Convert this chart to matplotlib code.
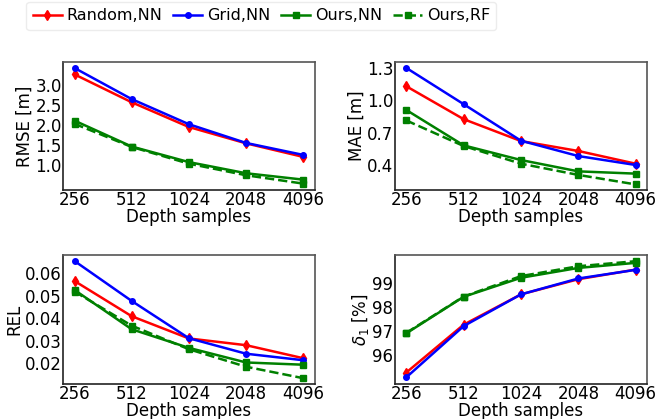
import numpy as np
import matplotlib as mpl
mpl.use('Agg')
import matplotlib.pyplot as plt

# Data
samples = ['256', '512', '1024', '2048', '4096']

rmse_random = [3.27, 2.57, 1.95, 1.54, 1.20]
rmse_grid = [3.43, 2.65, 2.02, 1.55, 1.25]
rmse_ours_nn = [2.11, 1.46, 1.07, 0.79, 0.63]
rmse_ours_rf = [2.03, 1.45, 1.03, 0.74, 0.53]

mae_random = [1.13, 0.825, 0.622, 0.53, 0.412]
mae_grid = [1.30, 0.964, 0.625, 0.483, 0.40]
mae_ours_nn = [0.91, 0.582, 0.446, 0.341, 0.32]
mae_ours_rf = [0.813, 0.576, 0.412, 0.308, 0.22]

rel_random = [0.0566, 0.0409, 0.0310, 0.0280, 0.0222]
rel_grid = [0.0655, 0.0477, 0.0311, 0.0242, 0.0213]
rel_ours_nn = [0.0526, 0.0351, 0.0268, 0.0203, 0.0193]
rel_ours_rf = [0.0519, 0.0367, 0.0262, 0.0184, 0.0133]

d1_random = [95.27, 97.26, 98.52, 99.15, 99.55]
d1_grid = [95.07, 97.20, 98.52, 99.18, 99.54]
d1_ours_nn = [96.90, 98.42, 99.21, 99.62, 99.83]
d1_ours_rf = [96.92, 98.43, 99.28, 99.69, 99.90]

series_names = ['Random,NN', 'Grid,NN', 'Ours,NN', 'Ours,RF']

panels = [
    ('RMSE [m]', [rmse_random, rmse_grid, rmse_ours_nn, rmse_ours_rf],
     (0.375, 3.58), [1.0, 1.5, 2.0, 2.5, 3.0], '%.1f'),
    ('MAE [m]', [mae_random, mae_grid, mae_ours_nn, mae_ours_rf],
     (0.17, 1.355), [0.4, 0.7, 1.0, 1.3], '%.1f'),
    ('REL', [rel_random, rel_grid, rel_ours_nn, rel_ours_rf],
     (0.0108, 0.0681), [0.02, 0.03, 0.04, 0.05, 0.06], '%.2f'),
    (r'$\delta_1$ [%]', [d1_random, d1_grid, d1_ours_nn, d1_ours_rf],
     (94.8, 100.15), [96, 97, 98, 99], '%d'),
]

styles = [
    dict(color='red', marker='d', markersize=5, linestyle='-'),
    dict(color='blue', marker='o', markersize=4, linestyle='-'),
    dict(color='green', marker='s', markersize=5, linestyle='-'),
    dict(color='green', marker='s', markersize=4, linestyle='--'),
]

fig = plt.figure(figsize=(6.57, 4.19), dpi=100)

positions = [
    [0.096, 0.547, 0.383, 0.305],
    [0.601, 0.547, 0.384, 0.305],
    [0.096, 0.084, 0.383, 0.307],
    [0.601, 0.084, 0.384, 0.307],
]

x = np.arange(len(samples))
handles = []
for pos, (ylabel, data, ylim, yticks, fmt) in zip(positions, panels):
    ax = fig.add_axes(pos)
    lines = []
    for vals, st, name in zip(data, styles, series_names):
        ln, = ax.plot(x, vals, linewidth=1.8, label=name, **st)
        lines.append(ln)
    handles = lines
    ax.set_xlim(-0.2, 4.2)
    ax.set_ylim(*ylim)
    ax.set_xticks(x)
    ax.set_xticklabels(samples)
    ax.set_yticks(yticks)
    ax.set_yticklabels([fmt % t for t in yticks])
    ax.tick_params(axis='both', labelsize=12, length=0, pad=1)
    ax.set_ylabel(ylabel, fontsize=12, labelpad=1)
    ax.set_xlabel('Depth samples', fontsize=12, labelpad=-1)
    for side in ['top', 'right']:
        ax.spines[side].set_color('#555555')
    for side in ['left', 'bottom']:
        ax.spines[side].set_color('#222222')
    for sp in ax.spines.values():
        sp.set_linewidth(1.2)

fig.legend(handles, series_names, loc='center', bbox_to_anchor=(0.398, 0.962),
           ncol=4, fontsize=11.5, frameon=True, handlelength=1.8, handletextpad=0.3,
           columnspacing=0.7, borderpad=0.4, fancybox=True, edgecolor='#e8e8e8')

fig.savefig('out.png', dpi=100)
